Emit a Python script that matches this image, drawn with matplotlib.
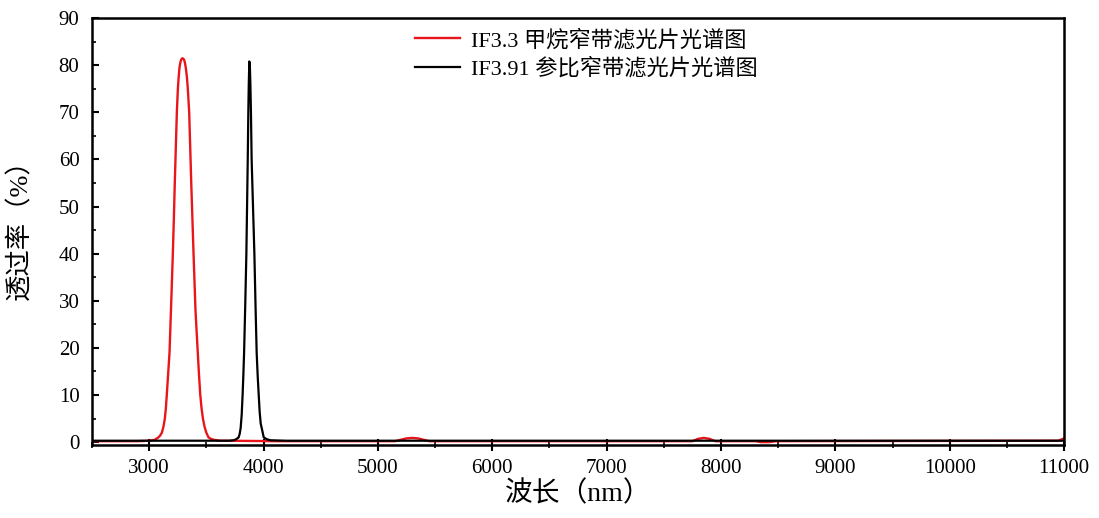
import matplotlib.pyplot as plt
from matplotlib.ticker import MultipleLocator

plt.rcParams['font.family'] = ['Liberation Serif', 'Noto Sans CJK SC']

# IF3.3 methane filter (red)
red_nm = [2500, 2900, 3000, 3050, 3080, 3096, 3111, 3125, 3137, 3146, 3154, 3166,
          3178, 3192, 3207, 3216, 3224, 3233, 3242, 3251, 3258, 3265, 3272, 3280,
          3291, 3305, 3313, 3320, 3330, 3338, 3350, 3359, 3368, 3378, 3388, 3405,
          3425, 3436, 3447, 3458, 3470, 3485, 3500, 3519, 3540, 3563, 3620, 3700,
          4100, 5150, 5200, 5250, 5300, 5350, 5400, 5450, 7750, 7800, 7850, 7900,
          7950, 8300, 8350, 8420, 8480, 10950, 11000]
red_T = [0.2, 0.2, 0.3, 0.5, 1.0, 1.4, 2.0, 3.3, 5.0, 7.2, 10.0, 14.5,
         19.0, 29.0, 40.0, 47.5, 55.0, 62.5, 70.0, 75.0, 77.5, 79.5, 80.5, 81.2,
         81.5, 81.2, 80.5, 79.5, 77.5, 75.0, 70.0, 62.5, 55.0, 47.5, 40.0, 28.0,
         19.0, 14.2, 10.0, 7.2, 5.0, 3.2, 2.0, 1.0, 0.7, 0.5, 0.3, 0.3,
         0.2, 0.2, 0.5, 0.8, 0.9, 0.8, 0.5, 0.2, 0.2, 0.7, 0.9, 0.7,
         0.2, 0.2, 0.0, 0.0, 0.2, 0.3, 0.8]

# IF3.91 reference filter (black)
blk_nm = [2500, 3700, 3740, 3760, 3782, 3792, 3800, 3809, 3817, 3824, 3830, 3840,
          3850, 3856, 3862, 3867, 3871, 3876, 3881, 3885, 3890, 3896, 3908, 3920,
          3930, 3940, 3949, 3958, 3966, 3975, 4002, 4030, 4060, 4200, 11000]
blk_T = [0.3, 0.3, 0.4, 0.6, 1.0, 1.8, 3.0, 5.8, 10.0, 14.5, 19.0, 29.0,
         40.0, 50.0, 60.0, 70.0, 76.0, 80.8, 79.5, 76.0, 70.0, 60.0, 50.0, 40.0,
         29.0, 19.0, 14.0, 10.0, 6.5, 4.0, 1.0, 0.6, 0.4, 0.3, 0.3]

labels = ['IF3.3 甲烷窄带滤光片光谱图', 'IF3.91 参比窄带滤光片光谱图']

fig = plt.figure(figsize=(10.99, 5.18), dpi=100)
ax = fig.add_axes([0.0837, 0.141, 0.8845, 0.824])

ax.plot(red_nm, red_T, color='#e8161b', lw=1.7, label=labels[0], zorder=2)
ax.plot(blk_nm, blk_T, color='black', lw=1.6, label=labels[1], zorder=3)

ax.set_xlim(2500, 11000)
ax.set_ylim(-0.6, 90)
ax.xaxis.set_major_locator(MultipleLocator(1000))
ax.xaxis.set_minor_locator(MultipleLocator(500))
ax.yaxis.set_major_locator(MultipleLocator(10))
ax.yaxis.set_minor_locator(MultipleLocator(5))
ax.tick_params(axis='x', which='major', direction='inout', length=8, width=1.5, labelsize=15, pad=6)
ax.tick_params(axis='x', which='minor', direction='inout', length=5, width=1.2)
ax.tick_params(axis='y', which='major', direction='in', length=5, width=1.5, labelsize=15, pad=9)
ax.tick_params(axis='y', which='minor', direction='in', length=3, width=1.2)
for s in ax.spines.values():
    s.set_linewidth(1.8)

ax.set_xlabel('波长（nm）', fontsize=20, labelpad=2)
ax.set_ylabel('透过率（%）', fontsize=19)
ax.yaxis.set_label_coords(-0.061, 0.52)

ax.legend(loc='upper left', bbox_to_anchor=(0.312, 1.02), frameon=False,
          fontsize=16, handlelength=2.0, handletextpad=0.5, labelspacing=0.3)

fig.savefig('out.png', dpi=100)
